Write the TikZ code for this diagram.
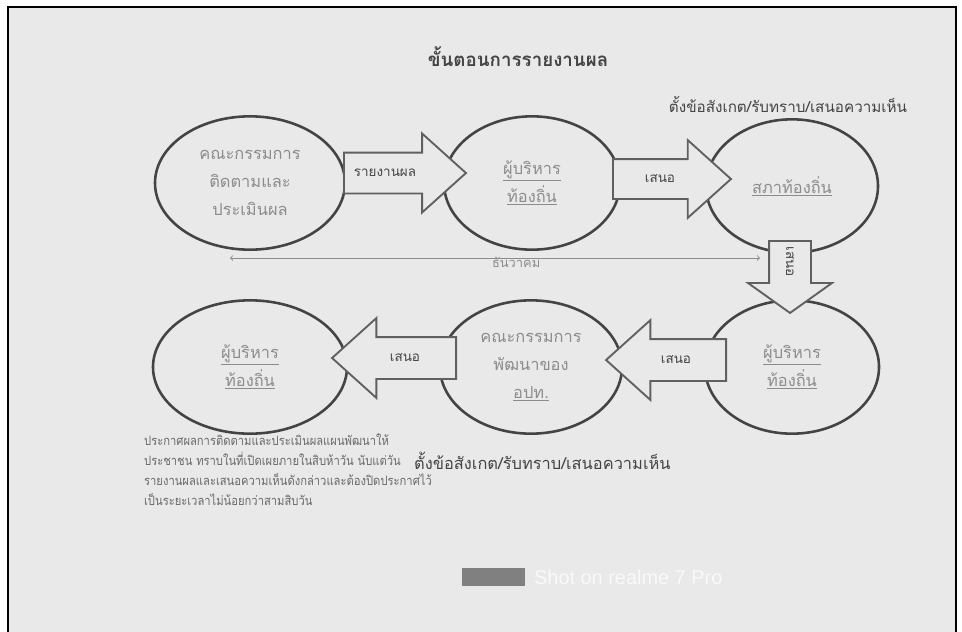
\documentclass[tikz,border=0pt]{standalone}
\usepackage{fontspec}
\setmainfont[Script=Thai]{Loma}
\newfontfamily\narrowfont[Script=Thai, FakeStretch=0.87]{Loma}
\newfontfamily\markfont{Liberation Sans}
\usetikzlibrary{shapes.geometric,shapes.arrows}
\definecolor{paper}{HTML}{E9E9E9}
\definecolor{ink}{HTML}{444444}
\definecolor{faint}{HTML}{8C8C8C}

\begin{document}
\begin{tikzpicture}[x=0.03cm,y=-0.03cm]
	\tikzset{stage/.style = {shape=ellipse, draw=ink, line width=2.2pt, fill=paper, text=faint, align=center, font=\fontsize{14}{24}\selectfont, minimum height=4cm, inner sep=0pt}}
	\tikzset{push/.style = {shape=single arrow, anchor=tail, draw=ink!85, line width=1.6pt, fill=paper, inner xsep=0pt, inner ysep=0.585cm, single arrow head extend=0.57cm, single arrow tip angle=84}}
	\tikzset{tag/.style = {text=ink, font=\fontsize{11.5}{13}\selectfont}}
	\tikzset{edge/.style = {<->, draw=faint, line width=0.8pt}}
	\useasboundingbox (0,0) rectangle (962,631);
	\fill[white] (0,0) rectangle (962,631);
	\draw[black, line width=1.2pt, fill=paper] (8,7) rectangle (956,640);
	% title and remarks
	\node[font=\bfseries\fontsize{16}{18}\selectfont, text=ink] (title) at (518,57) {ขั้นตอนการรายงานผล};
	\node[font=\fontsize{13}{15}\selectfont, text=ink] (remarktop) at (788,104) {ตั้งข้อสังเกต/รับทราบ/เสนอความเห็น};
	% stages
	\node[stage, minimum width=5.7cm] (eval) at (250,183) {คณะกรรมการ\\ติดตามและ\\ประเมินผล};
	\node[stage, minimum width=5.28cm] (head) at (532,183) {\underline{ผู้บริหาร}\\\underline{ท้องถิ่น}};
	\node[stage, minimum width=5.16cm] (council) at (792,186) {\underline{สภาท้องถิ่น}};
	\node[stage, minimum width=5.82cm] (headpub) at (250,367) {\underline{ผู้บริหาร}\\\underline{ท้องถิ่น}};
	\node[stage, minimum width=5.46cm] (devboard) at (531,367) {คณะกรรมการ\\พัฒนาของ\\\underline{อปท.}};
	\node[stage, minimum width=5.22cm] (headback) at (792,367) {\underline{ผู้บริหาร}\\\underline{ท้องถิ่น}};
	% december span
	\coordinate (decl) at (230,258);
	\coordinate (decr) at (760,258);
	\draw[edge] (decl) -- node[pos=0.54, below=-4pt, text=faint, font=\fontsize{11}{13}\selectfont] (dec) {ธันวาคม} (decr);
	% block arrows, placed by their tails
	\node[push, minimum height=3.66cm] (report) at (343,173) {};
	\node[push, minimum height=3.54cm, inner ysep=0.57cm] (toboard) at (612,179) {};
	\node[push, rotate=-90, minimum height=2.16cm, inner ysep=0.6cm, single arrow head extend=0.63cm, single arrow tip angle=109] (down) at (790,240) {};
	\node[push, shape border rotate=180, minimum height=3.6cm, inner ysep=0.6cm] (todev) at (727,360) {};
	\node[push, shape border rotate=180, minimum height=3.72cm, inner ysep=0.6cm] (tohead) at (457,358) {};
	\node[tag] (reporttag) at (385,173) {รายงานผล};
	\node[tag] (toboardtag) at (660,179) {เสนอ};
	\node[tag, rotate=-90] (downtag) at (790,262) {เสนอ};
	\node[tag] (todevtag) at (676,360) {เสนอ};
	\node[tag] (toheadtag) at (405,358) {เสนอ};
	% notes below
	\node[anchor=north west, align=left, text=ink!80, font=\narrowfont\fontsize{11}{17}\selectfont] (notice) at (140,430) {ประกาศผลการติดตามและประเมินผลแผนพัฒนาให้\\ประชาชน ทราบในที่เปิดเผยภายในสิบห้าวัน นับแต่วัน\\รายงานผลและเสนอความเห็นดังกล่าวและต้องปิดประกาศไว้\\เป็นระยะเวลาไม่น้อยกว่าสามสิบวัน};
	\node[anchor=west, text=ink, font=\fontsize{14}{16}\selectfont] (remarklow) at (410,461) {ตั้งข้อสังเกต/รับทราบ/เสนอความเห็น};
	% photo mark
	\fill[gray] (462,568) rectangle (525,586);
	\node[anchor=west, text=white!75!paper, font=\markfont\fontsize{17}{19}\selectfont] (shot) at (530,577) {Shot on realme 7 Pro};
\end{tikzpicture}
\end{document}
